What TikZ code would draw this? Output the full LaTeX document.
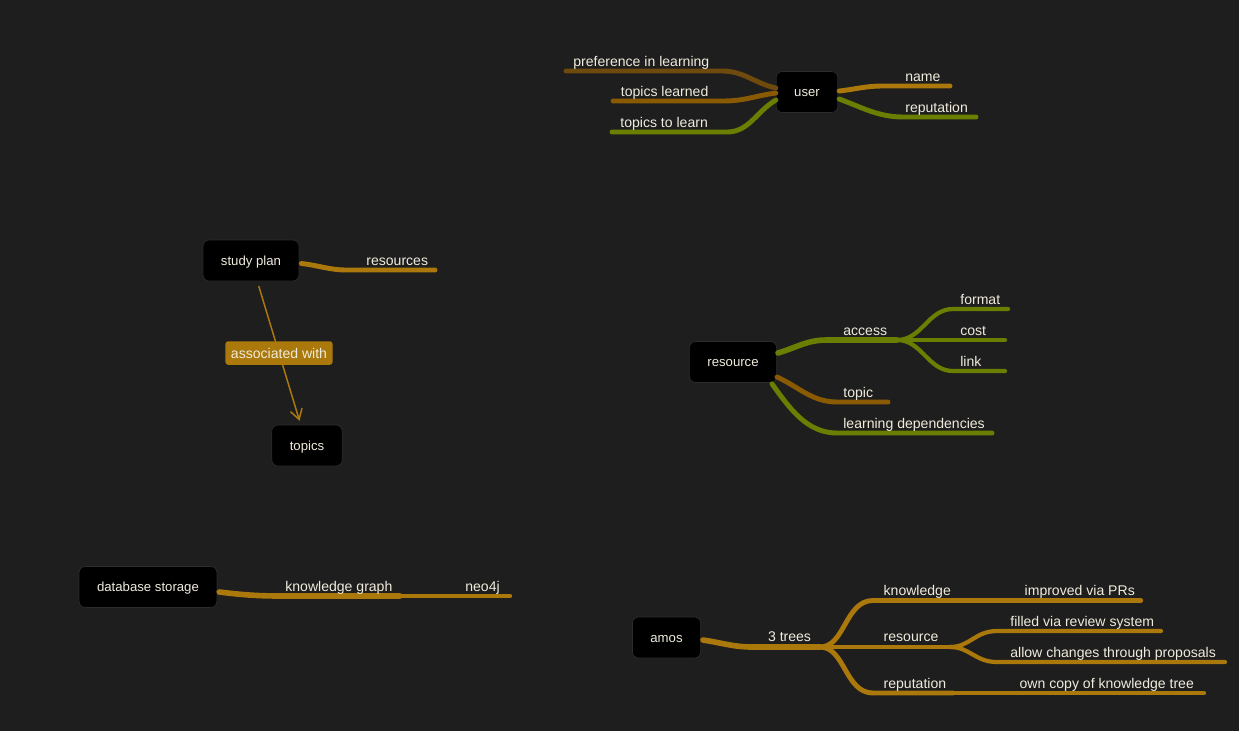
\documentclass[tikz,border=0pt]{standalone}
\usepackage{fontspec}
\setmainfont{Liberation Sans}
\usetikzlibrary{arrows.meta, calc}
\definecolor{bgDark}{HTML}{1E1E1E}
\definecolor{mmGold}{HTML}{AA780B}
\definecolor{mmGreen}{HTML}{6A7F02}
\definecolor{mmBrown}{HTML}{8A5A02}
\definecolor{mmBrownDark}{HTML}{6E4A0C}
\definecolor{mmText}{HTML}{F0EBDC}
\definecolor{mmEdge}{HTML}{2C2C2C}
\tikzset{
    topicNode/.style={rectangle, rounded corners=3.5pt, fill=black, draw=mmEdge, thin, text=mmText,
        font=\fontsize{7.5}{9}\selectfont, inner xsep=0.36cm, inner ysep=0pt, minimum height=0.82cm,
        text height=1ex, text depth=0pt},
    branchLabel/.style={anchor=base west, inner sep=0pt, text=mmText, font=\fontsize{8}{10}\selectfont},
    trunkLine/.style={line width=3.2pt, line cap=round},
    branchLine/.style={line width=2.8pt, line cap=round},
    leafLine/.style={line width=2.4pt, line cap=round}
}
\begin{document}
\begin{tikzpicture}[x=0.02cm, y=-0.02cm]

        % --- Background ---
        \fill[bgDark] (0,0) rectangle (1239,731);
        \useasboundingbox (0,0) rectangle (1239,731);

        % --- Styles ---
        \tikzset{
            assocArrow/.style={mmGold, line width=0.85pt, {-Straight Barb[length=2mm, width=2.4mm]},
                shorten <=0.1cm, shorten >=0.08cm},
            assocLabel/.style={fill=mmGold, rounded corners=1.5pt, text=mmText, font=\fontsize{8}{10}\selectfont,
                inner xsep=0.11cm, inner ysep=0pt, minimum height=0.47cm}
        }

        % --- Topic Nodes ---
        \node[topicNode] (user) at (807,92) {user};
        \node[topicNode] (studyplan) at (251,260.5) {study plan};
        \node[topicNode] (topics) at (307,445.5) {topics};
        \node[topicNode] (resource) at (733,362) {resource};
        \node[topicNode] (dbstorage) at (148,587) {database storage};
        \node[topicNode] (amos) at (666.5,637.5) {amos};

        % --- Coordinates ---
        \coordinate (prefK) at (722,71);     \coordinate (prefT) at (566,71);
        \coordinate (learnedK) at (723,101); \coordinate (learnedT) at (613,101);
        \coordinate (tolearnK) at (727,132); \coordinate (tolearnT) at (612,132);
        \coordinate (nameK) at (883,86);     \coordinate (nameT) at (950,86);
        \coordinate (repuK) at (903,117);    \coordinate (repuT) at (976,117);
        \coordinate (resK) at (347,270);     \coordinate (resT) at (435,270);
        \coordinate (accessK) at (827,340);  \coordinate (accessF) at (897,340);
        \coordinate (formatK) at (953,309);  \coordinate (formatT) at (1008,309);
        \coordinate (costT) at (1005,340);
        \coordinate (linkK) at (953,371);    \coordinate (linkT) at (1005,371);
        \coordinate (topicK) at (837,402);   \coordinate (topicT) at (888,402);
        \coordinate (depsK) at (837,433);    \coordinate (depsT) at (992,433);
        \coordinate (kgK) at (283,596);      \coordinate (kgT) at (400,596);
        \coordinate (neoT) at (510,596);
        \coordinate (treesK) at (753,647);   \coordinate (treesF) at (820,647);
        \coordinate (knowK) at (873,600.5);  \coordinate (knowT) at (958,600.5);
        \coordinate (prT) at (1141,600.5);
        \coordinate (rsrcF) at (950,647);
        \coordinate (fillK) at (997,631);    \coordinate (fillT) at (1161,631);
        \coordinate (allowK) at (997,662);   \coordinate (allowT) at (1225,662);
        \coordinate (repK) at (873,693);     \coordinate (repT) at (953,693);
        \coordinate (copyT) at (1204,693);

        % --- User Branches ---
        \draw[branchLine, mmBrownDark] ($(user.west)+(0,-4)$) .. controls +(-22,-5) and +(22,0) .. (prefK) -- (prefT);
        \draw[branchLine, mmBrown] ($(user.west)+(0,1)$) .. controls +(-22,3) and +(22,0) .. (learnedK) -- (learnedT);
        \draw[branchLine, mmGreen] ($(user.west)+(0,8)$) .. controls +(-20,12) and +(22,0) .. (tolearnK) -- (tolearnT);
        \draw[branchLine, mmGold] ($(user.east)+(1,-1)$) .. controls +(18,-2) and +(-18,0) .. (nameK) -- (nameT);
        \draw[branchLine, mmGreen] ($(user.east)+(1,7)$) .. controls +(22,8) and +(-25,0) .. (repuK) -- (repuT);

        % --- Study Plan ---
        \draw[branchLine, mmGold] ($(studyplan.east)+(2,3)$) .. controls +(18,2) and +(-18,0) .. (resK) -- (resT);
        \draw[assocArrow] (studyplan) -- (topics) node[midway, assocLabel] {associated with};

        % --- Resource Branches ---
        \draw[trunkLine, mmGreen] ($(resource.east)+(1,-9)$) .. controls +(20,-6) and +(-20,0) .. (accessK) -- (accessF);
        \draw[leafLine, mmGreen] (accessF) .. controls +(25,0) and +(-25,0) .. (formatK) -- (formatT);
        \draw[leafLine, mmGreen] (accessF) -- (costT);
        \draw[leafLine, mmGreen] (accessF) .. controls +(25,0) and +(-25,0) .. (linkK) -- (linkT);
        \draw[branchLine, mmBrown] ($(resource.east)+(0,15)$) .. controls +(22,10) and +(-25,0) .. (topicK) -- (topicT);
        \draw[branchLine, mmGreen] ($(resource.south east)+(-5,1)$) .. controls +(18,25) and +(-30,0) .. (depsK) -- (depsT);

        % --- Database Storage ---
        \draw[trunkLine, mmGold] ($(dbstorage.east)+(2,5)$) .. controls +(25,3) and +(-25,0) .. (kgK) -- (kgT);
        \draw[leafLine, mmGold] (kgT) -- (neoT);

        % --- Amos ---
        \draw[trunkLine, mmGold] ($(amos.east)+(2,2.5)$) .. controls +(20,3) and +(-20,0) .. (treesK) -- (treesF);
        \draw[branchLine, mmGold] (treesF) .. controls +(25,0) and +(-28,0) .. (knowK) -- (knowT);
        \draw[leafLine, mmGold] (knowT) -- (prT);
        \draw[branchLine, mmGold] (treesF) -- (rsrcF);
        \draw[leafLine, mmGold] (rsrcF) .. controls +(20,0) and +(-22,0) .. (fillK) -- (fillT);
        \draw[leafLine, mmGold] (rsrcF) .. controls +(20,0) and +(-22,0) .. (allowK) -- (allowT);
        \draw[branchLine, mmGold] (treesF) .. controls +(25,0) and +(-28,0) .. (repK) -- (repT);
        \draw[leafLine, mmGold] (repT) -- (copyT);

        % --- Branch Labels ---
        \node[branchLabel] (lblPref) at (573,66.5) {preference in learning};
        \node[branchLabel] (lblLearned) at (620.5,96) {topics learned};
        \node[branchLabel] (lblToLearn) at (620,127) {topics to learn};
        \node[branchLabel] (lblName) at (905,81.5) {name};
        \node[branchLabel] (lblRepu) at (905,112.5) {reputation};
        \node[branchLabel] (lblRes) at (366,265.3) {resources};
        \node[branchLabel] (lblAccess) at (843,335) {access};
        \node[branchLabel] (lblFormat) at (960,304.3) {format};
        \node[branchLabel] (lblCost) at (960,335) {cost};
        \node[branchLabel] (lblLink) at (960,366) {link};
        \node[branchLabel] (lblTopic) at (843,397.3) {topic};
        \node[branchLabel] (lblDeps) at (843,428) {learning dependencies};
        \node[branchLabel] (lblKg) at (285,591.7) {knowledge graph};
        \node[branchLabel] (lblNeo) at (465,591.7) {neo4j};
        \node[branchLabel] (lblTrees) at (767.7,641.7) {3 trees};
        \node[branchLabel] (lblKnow) at (883.3,595.7) {knowledge};
        \node[branchLabel] (lblRsrc) at (883.3,641.7) {resource};
        \node[branchLabel] (lblRep) at (883.3,688.3) {reputation};
        \node[branchLabel] (lblPR) at (1024.3,595.7) {improved via PRs};
        \node[branchLabel] (lblFill) at (1010,626) {filled via review system};
        \node[branchLabel] (lblAllow) at (1010,657.3) {allow changes through proposals};
        \node[branchLabel] (lblCopy) at (1019.3,688.3) {own copy of knowledge tree};

    \end{tikzpicture}
\end{document}
